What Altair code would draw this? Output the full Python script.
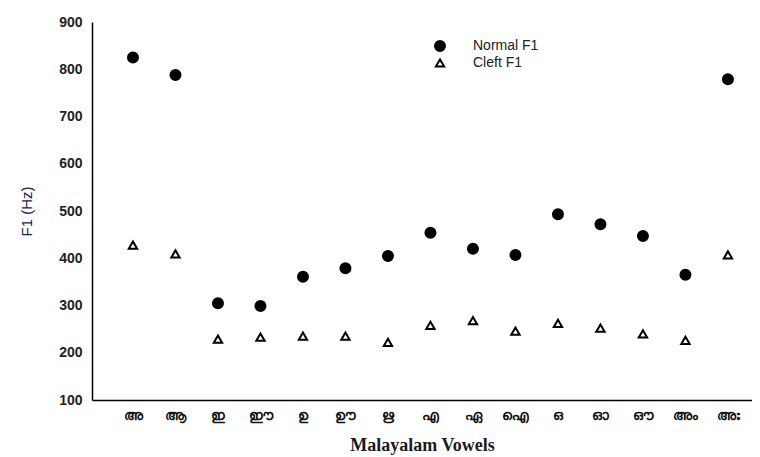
import altair as alt
import pandas as pd

vowels = ["അ", "ആ", "ഇ", "ഈ", "ഉ", "ഊ", "ഋ", "എ", "ഏ", "ഐ", "ഒ", "ഓ", "ഔ", "അം", "അഃ"]
normal_f1 = [825, 788, 305, 299, 361, 379, 405, 454, 420, 407, 493, 472, 447, 365, 779]
cleft_f1 = [428, 409, 229, 233, 235, 235, 222, 258, 268, 246, 262, 252, 240, 226, 407]
series_names = ["Normal F1", "Cleft F1"]

rows = []
for v, n, c in zip(vowels, normal_f1, cleft_f1):
    rows.append({"vowel": v, "f1": n, "series": series_names[0]})
    rows.append({"vowel": v, "f1": c, "series": series_names[1]})
df = pd.DataFrame(rows)

legend = alt.Legend(
    title=None, orient="none", legendX=341, legendY=17,
    labelFont="Liberation Sans", labelFontSize=14, labelColor="#222",
    labelOffset=26, rowPadding=0, symbolStrokeWidth=2,
)

chart = alt.Chart(df).mark_point(filled=True, strokeWidth=2, opacity=1).encode(
    x=alt.X("vowel:N", sort=vowels, title="Malayalam Vowels",
            scale=alt.Scale(type="point", padding=0.765, align=0.63),
            axis=alt.Axis(labelAngle=0, ticks=False, domainColor="black", domainWidth=1.5,
                          labelFontSize=14, labelFontWeight="bold", labelColor="#111", labelPadding=8,
                          titleFont="Liberation Serif", titleFontSize=18, titleFontWeight="bold",
                          titleColor="#1a1a1a", titlePadding=14, grid=False)),
    y=alt.Y("f1:Q", title="F1 (Hz)",
            scale=alt.Scale(domain=[100, 900], nice=False),
            axis=alt.Axis(values=list(range(100, 1000, 100)), ticks=False, domainColor="black",
                          domainWidth=1.5, labelFont="Liberation Sans", labelFontSize=14,
                          labelFontWeight="bold", labelColor="#222", labelPadding=10,
                          titleFont="Liberation Sans", titleFontSize=15, titleFontWeight="normal",
                          titleColor="#22225a", titlePadding=24, grid=False)),
    shape=alt.Shape("series:N", scale=alt.Scale(domain=series_names, range=["circle", "triangle-up"]),
                    legend=legend),
    fill=alt.Fill("series:N", scale=alt.Scale(domain=series_names, range=["black", "white"]),
                  legend=legend),
    stroke=alt.Stroke("series:N", scale=alt.Scale(domain=series_names, range=["black", "black"]),
                      legend=legend),
    size=alt.Size("series:N", scale=alt.Scale(domain=series_names, range=[100, 70]),
                  legend=legend),
).properties(
    width=660, height=378,
    autosize=alt.AutoSizeParams(type="none"),
    padding={"left": 84, "top": 14, "right": 0, "bottom": 56},
).configure_view(stroke=None).configure_axis(labelFont="Liberation Sans")

chart.save("out.html", embed_options={"renderer": "svg", "actions": False})
